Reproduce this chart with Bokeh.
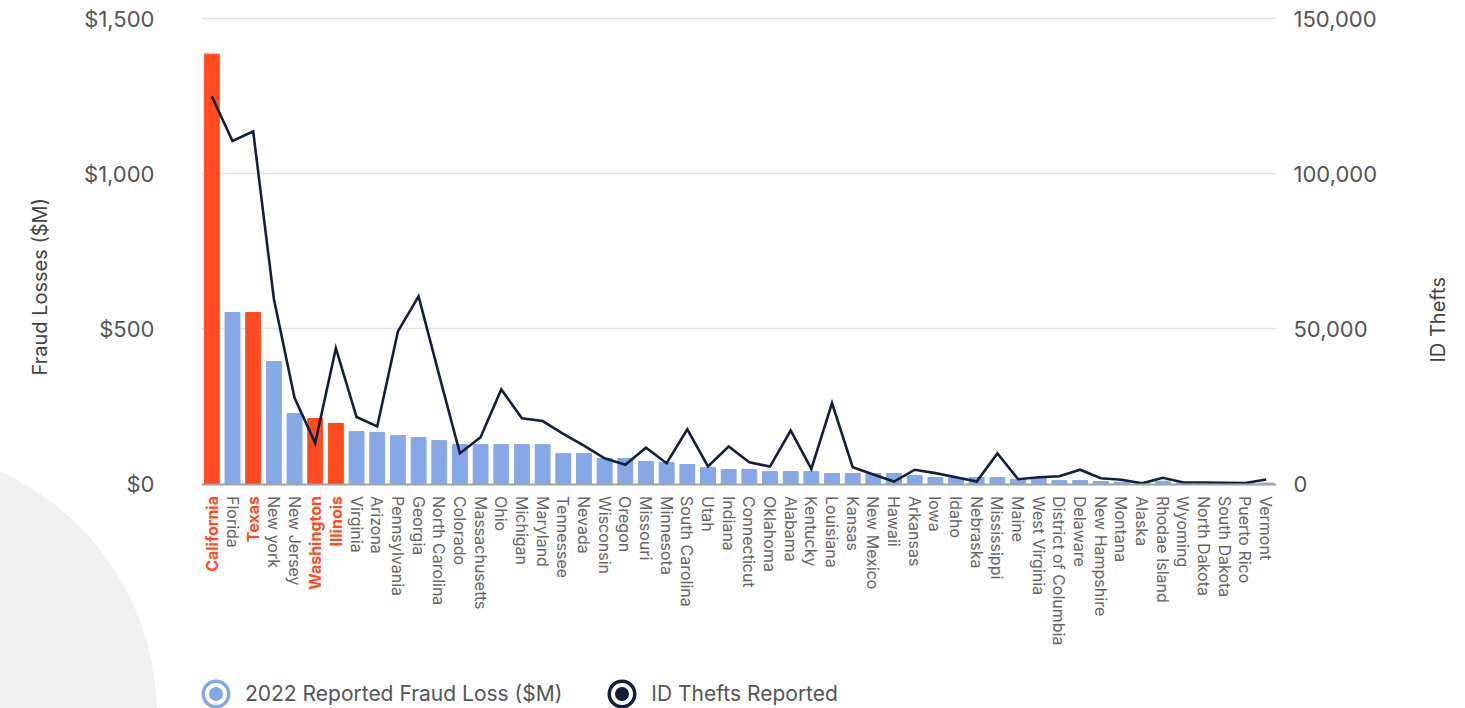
from math import pi

from bokeh.core.properties import value
from bokeh.embed import file_html
from bokeh.models import (ColumnDataSource, CustomJSTickFormatter, FactorRange, FixedTicker,
                          LabelSet, Legend, LegendItem, LinearAxis, NumeralTickFormatter,
                          Range1d, Title)
from bokeh.plotting import figure
from bokeh.resources import INLINE

# ---- data -----------------------------------------------------------------
states = [
    "California", "Florida", "Texas", "New york", "New Jersey", "Washington",
    "Illinois", "Virginia", "Arizona", "Pennsylvania", "Georgia", "North Carolina",
    "Colorado", "Massachusetts", "Ohio", "Michigan", "Maryland", "Tennessee",
    "Nevada", "Wisconsin", "Oregon", "Missouri", "Minnesota", "South Carolina",
    "Utah", "Indiana", "Connecticut", "Oklahoma", "Alabama", "Kentucky",
    "Louisiana", "Kansas", "New Mexico", "Hawaii", "Arkansas", "Iowa", "Idaho",
    "Nebraska", "Mississippi", "Maine", "West Virginia", "District of Columbia",
    "Delaware", "New Hampshire", "Montana", "Alaska", "Rhodae Island", "Wyoming",
    "North Dakota", "South Dakota", "Puerto Rico", "Vermont",
]

# 2022 reported fraud losses, $M
fraud_loss = [
    1386, 553, 553, 395, 227, 211,
    195, 169, 166, 156, 150, 140,
    127, 127, 127, 127, 127, 98,
    98, 82, 82, 73, 69, 63,
    53, 47, 47, 40, 40, 40,
    34, 34, 34, 34, 27, 21, 21,
    21, 21, 15, 20, 11,
    11, 8, 6, 2, 9, 3,
    3, 3, 3, 3,
]

# identity thefts reported
id_thefts = [
    125000, 110600, 113700, 59750, 27800, 13200,
    43800, 21600, 18550, 49200, 60500, 35000,
    9900, 15100, 30500, 21200, 20300, 16200,
    12400, 8300, 6200, 11700, 6700, 17600,
    5650, 12100, 7000, 5600, 17250, 4900,
    26100, 5400, 3050, 800, 4600, 3500, 2200,
    800, 9850, 1550, 2200, 2500,
    4600, 1870, 1350, 200, 2000, 500,
    500, 400, 300, 1450,
]

highlighted = ["California", "Texas", "Washington", "Illinois"]

loss_ticks = [0, 500, 1000, 1500]
theft_ticks = [0, 50000, 100000, 150000]

# ---- layout & styling -------------------------------------------------------
W, H = 1465, 708
FRAME_TOP = 16                 # top edge of the plotting frame
TOP_Y, ZERO_Y = 18.3, 483.5    # pixel rows of the highest gridline and of zero
ORANGE = "#FF4B1F"
BLUE = "#87A8E6"
NAVY = "#14203A"
FONT = "Inter"
TICK_GREY = "#555555"

# the plotting frame runs to the bottom of the page so that the state names
# and the legend below the zero line live inside it
per_px = 1 / (ZERO_Y - TOP_Y)
lo_share = -(H - ZERO_Y) * per_px
hi_share = 1 + (TOP_Y - FRAME_TOP) * per_px

bar_colors = [ORANGE if s in highlighted else BLUE for s in states]
source = ColumnDataSource(dict(state=states, loss=fraud_loss, thefts=id_thefts,
                               color=bar_colors))

p = figure(
    width=W, height=H,
    x_range=FactorRange(*states, range_padding=0),
    y_range=Range1d(loss_ticks[-1] * lo_share, loss_ticks[-1] * hi_share),
    output_backend="svg", toolbar_location=None,
    min_border_left=201, min_border_right=185,
    min_border_top=FRAME_TOP, min_border_bottom=0,
)
p.extra_y_ranges = {"thefts": Range1d(theft_ticks[-1] * lo_share,
                                      theft_ticks[-1] * hi_share)}
p.outline_line_color = None
p.background_fill_color = "white"
p.border_fill_color = None
# soft grey disc in the lower-left corner of the page
p.styles = {"background": "radial-gradient(circle 266px at -109px 714px, "
                          "#f1f1f1 265.5px, #ffffff 266px)"}

# bars and line
p.vbar(x="state", top="loss", width=0.72, color="color", source=source)
p.line(x="state", y="thefts", y_range_name="thefts", source=source,
       line_color=NAVY, line_width=2.6, line_join="miter")

# grid
p.xgrid.visible = False
p.ygrid.ticker = FixedTicker(ticks=loss_ticks)
p.ygrid.grid_line_color = "#e2e2e2"
p.ygrid.grid_line_width = 1.3


def style_value_axis(ax, standoff):
    ax.axis_line_color = None
    ax.major_tick_line_color = None
    ax.minor_tick_line_color = None
    ax.major_label_standoff = standoff
    ax.major_label_text_font = FONT
    ax.major_label_text_font_size = "22px"
    ax.major_label_text_color = TICK_GREY
    ax.axis_label_text_font = FONT
    ax.axis_label_text_font_size = "20px"
    ax.axis_label_text_font_style = "normal"
    ax.axis_label_text_color = "#444444"


# left axis: fraud losses
left = p.yaxis[0]
left.ticker = FixedTicker(ticks=loss_ticks)
left.formatter = NumeralTickFormatter(format="$0,0")
style_value_axis(left, 41)

# left title, outside the tick labels, starting level with the lower part of the chart
left_title = Title(text="Fraud Losses ($M)", align="left", vertical_align="top",
                   offset=333, text_font=FONT, text_font_size="20px",
                   text_font_style="normal", text_color="#444444")
if "standoff" in Title.properties():
    left_title.standoff = 55
p.add_layout(left_title, "left")

# right axis: identity thefts
right = LinearAxis(y_range_name="thefts", ticker=FixedTicker(ticks=theft_ticks),
                   formatter=NumeralTickFormatter(format="0,0"))
style_value_axis(right, 11)
right.axis_label = "ID Thefts"
right.axis_label_standoff = 58
if "axis_label_orientation" in right.properties():
    right.axis_label_orientation = pi / 2
p.add_layout(right, "right")

# state axis sits on the zero line; emphasised names are left to the labels below
xa = p.xaxis[0]
xa.fixed_location = 0
xa.major_label_orientation = "vertical"
xa.major_label_text_font = FONT
xa.major_label_text_font_size = "16px"
xa.major_label_text_color = "#666666"
xa.major_tick_line_color = None
xa.major_tick_out = 0
xa.major_tick_in = 0
xa.major_label_standoff = 12
xa.axis_line_color = "#a3a3a3"
xa.axis_line_width = 2
xa.formatter = CustomJSTickFormatter(args=dict(hl=highlighted),
                                     code="return hl.includes(tick) ? '' : tick;")

# emphasised state names in bold orange
hl_source = ColumnDataSource(dict(state=highlighted, base=[0] * len(highlighted)))
p.add_layout(LabelSet(
    x="state", y="base", text="state", source=hl_source,
    angle=pi / 2, y_offset=-12, text_align="right", text_baseline="middle",
    text_font=value(FONT), text_font_style="bold", text_font_size="16px",
    text_color=ORANGE,
))

# legend swatches: outer ring + white gap + inner dot
nan_src = ColumnDataSource(dict(x=[states[0]], y=[float("nan")]))
ring_loss = p.scatter("x", "y", source=nan_src, marker="circle", size=18,
                      fill_color=None, line_color=BLUE, line_width=11)
dot_loss = p.scatter("x", "y", source=nan_src, marker="circle", size=18,
                     fill_color=BLUE, line_color="white", line_width=4)
ring_theft = p.scatter("x", "y", source=nan_src, marker="circle", size=18,
                       fill_color=None, line_color=NAVY, line_width=11)
dot_theft = p.scatter("x", "y", source=nan_src, marker="circle", size=18,
                      fill_color=NAVY, line_color="white", line_width=4)

legend = Legend(
    items=[
        LegendItem(label="2022 Reported Fraud Loss ($M)", renderers=[ring_loss, dot_loss]),
        LegendItem(label="ID Thefts Reported", renderers=[ring_theft, dot_theft]),
    ],
    location=(-8, -8), orientation="horizontal",
    glyph_width=45, glyph_height=45, label_standoff=7, spacing=37,
    padding=0, margin=0, border_line_color=None, background_fill_alpha=0,
    label_text_font=FONT, label_text_font_size="21px", label_text_color=TICK_GREY,
)
p.add_layout(legend)

open("out.html", "w").write(file_html(p, INLINE))
